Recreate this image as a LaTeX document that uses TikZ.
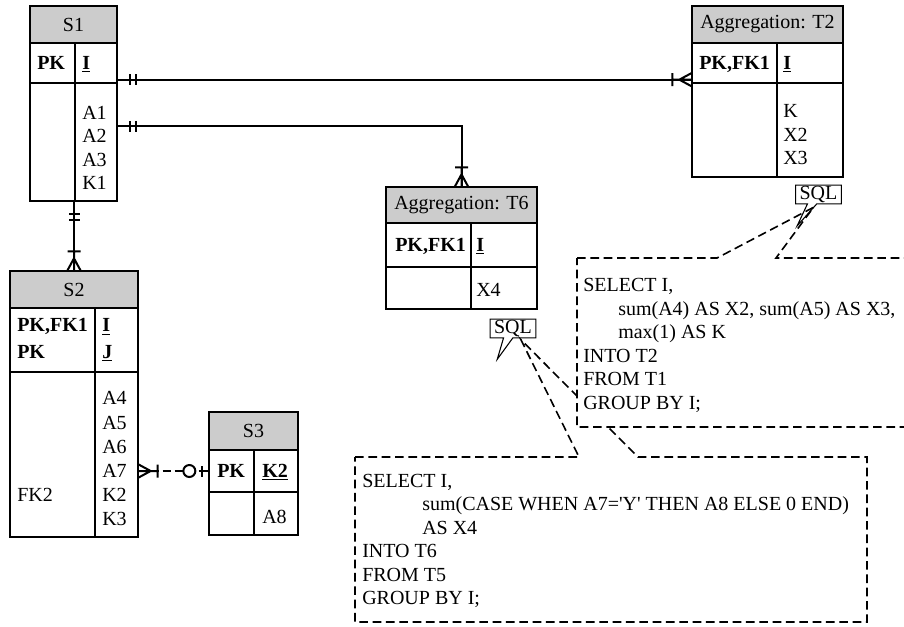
\documentclass[tikz,border=0pt]{standalone}
\usepackage{fontspec}
\setmainfont{Liberation Serif}
\usepackage{tikz}
\usepackage{xcolor}
\usetikzlibrary{calc,positioning,fit,shapes.callouts}
\definecolor{ERGray}{HTML}{CCCCCC}
\definecolor{ERInk}{HTML}{000000}
\tikzset{
  tabCell/.style={draw=ERInk, line width=1pt, inner sep=0pt, fill=white},
  tabHead/.style={tabCell, fill=ERGray},
  headText/.style={inner sep=0pt, font=\fontsize{15pt}{17.6pt}\selectfont},
  attrText/.style={anchor=base west, inner sep=0pt, align=left, font=\fontsize{15pt}{17.6pt}\selectfont},
  keyText/.style={attrText, font=\fontsize{15pt}{17.6pt}\selectfont\bfseries},
  sqlText/.style={attrText},
  sqlTag/.style={rectangle callout, draw=ERInk, line width=0.8pt, fill=white, inner xsep=3pt, inner ysep=0.8pt, callout pointer width=7pt, font=\fontsize{15pt}{17.6pt}\selectfont},
  relLine/.style={draw=ERInk, line width=1.5pt},
  optLine/.style={relLine, dash pattern=on 6pt off 3pt},
  noteBox/.style={draw=ERInk, line width=1.2pt, dash pattern=on 6.5pt off 3.5pt},
  pics/onlyOne/.style={code={\draw[relLine] (0,0) -- (18,0) (12,-5.5) -- (12,5.5) (18,-5.5) -- (18,5.5);}},
  pics/oneMany/.style={code={\draw[relLine] (0,0) -- (19,0) (0,-6.5) -- (12,0) -- (0,6.5) (19,-6.5) -- (19,6.5);}},
  pics/zeroOne/.style={code={\draw[relLine] (0,0) -- (6,0) (6,-5.5) -- (6,5.5); \draw[relLine, fill=white] (19,0) circle[radius=6];}}
}

\begin{document}
\begin{tikzpicture}[x=0.75pt, y=-0.75pt]
  \useasboundingbox (0,0) rectangle (904,626);
  \clip (0,0) rectangle (904,626);

  % S1
  \node[tabHead, fit={(30,6) (117,43)}, label={[headText]center:S1}] (s1) {};
  \node[tabCell, fit={(30,43) (75,83)}] (s1kl) {};
  \node[tabCell, fit={(75,43) (117,83)}] (s1kr) {};
  \node[tabCell, fit={(30,83) (75,201)}] (s1al) {};
  \node[tabCell, fit={(75,83) (117,201)}] (s1ar) {};
  \node[keyText] (s1pk) at (37,69.6) {PK};
  \node[keyText] (s1id) at (82,69.6) {\underline{I}};
  \node[attrText] (s1att) at (82,189.6) {A1\\A2\\A3\\K1};

  % S2
  \node[tabHead, fit={(10,271) (138,308)}, label={[headText]center:S2}] (s2) {};
  \node[tabCell, fit={(10,308) (95,372)}] (s2kl) {};
  \node[tabCell, fit={(95,308) (138,372)}] (s2kr) {};
  \node[tabCell, fit={(10,372) (95,537)}] (s2al) {};
  \node[tabCell, fit={(95,372) (138,537)}] (s2ar) {};
  \node[keyText] (s2pk) at (17,358.6) {PK,FK1\\[2.4pt]PK};
  \node[keyText] (s2id) at (102,358.6) {\underline{I}\\[2.4pt]\underline{J}};
  \node[attrText, font=\fontsize{15pt}{18.1pt}\selectfont] (s2att) at (102,525.6) {A4\\A5\\A6\\A7\\K2\\K3};
  \node[attrText] (s2fk) at (17,501.5) {FK2};

  % S3
  \node[tabHead, fit={(209,412) (298,450)}, label={[headText]center:S3}] (s3) {};
  \node[tabCell, fit={(209,450) (254,492)}] (s3kl) {};
  \node[tabCell, fit={(254,450) (298,492)}] (s3kr) {};
  \node[tabCell, fit={(209,492) (254,535)}] (s3al) {};
  \node[tabCell, fit={(254,492) (298,535)}] (s3ar) {};
  \node[keyText] (s3pk) at (217,477) {PK};
  \node[keyText] (s3id) at (262,477) {\underline{K2}};
  \node[attrText] (s3att) at (262,523.6) {A8};

  % Aggregation T6
  \node[tabHead, fit={(386,187) (537,223)}, label={[headText]center:Aggregation: T6}] (t6) {};
  \node[tabCell, fit={(386,223) (471,267)}] (t6kl) {};
  \node[tabCell, fit={(471,223) (537,267)}] (t6kr) {};
  \node[tabCell, fit={(386,267) (471,309)}] (t6al) {};
  \node[tabCell, fit={(471,267) (537,309)}] (t6ar) {};
  \node[keyText] (t6pk) at (395,251.6) {PK,FK1};
  \node[keyText] (t6id) at (476,251.6) {\underline{I}};
  \node[attrText] (t6att) at (476,296.6) {X4};

  % Aggregation T2
  \node[tabHead, fit={(692,6) (843,43)}, label={[headText]center:Aggregation: T2}] (t2) {};
  \node[tabCell, fit={(692,43) (777,83)}] (t2kl) {};
  \node[tabCell, fit={(777,43) (843,83)}] (t2kr) {};
  \node[tabCell, fit={(692,83) (777,177)}] (t2al) {};
  \node[tabCell, fit={(777,83) (843,177)}] (t2ar) {};
  \node[keyText] (t2pk) at (699,69.6) {PK,FK1};
  \node[keyText] (t2id) at (783,69.6) {\underline{I}};
  \node[attrText] (t2att) at (783,164.6) {K\\X2\\X3};

  % Relationships
  \draw[relLine] ([yshift=3pt]s1kr.south east) -- ([yshift=3pt]t2kl.south west);
  \pic at ([yshift=3pt]s1kr.south east) {onlyOne};
  \pic[rotate=180] at ([yshift=3pt]t2kl.south west) {oneMany};

  \draw[relLine] ([yshift=-33pt]s1ar.north east) -| (t6.north);
  \pic at ([yshift=-33pt]s1ar.north east) {onlyOne};
  \pic[rotate=90] at (t6.north) {oneMany};

  \draw[relLine] (s1al.south -| s2.north) -- (s2.north);
  \pic[rotate=-90] at (s1al.south -| s2.north) {onlyOne};
  \pic[rotate=90] at (s2.north) {oneMany};

  \draw[optLine] (s2ar.east |- s3kl.west) -- (s3kl.west);
  \pic at (s2ar.east |- s3kl.west) {oneMany};
  \pic[rotate=180] at (s3kl.west) {zeroOne};

  % SQL notes
  \node[sqlTag, callout relative pointer={(-11,21.5)}] (t6sql) at (513,328.5) {SQL};
  \node[sqlTag, callout relative pointer={(-15,22)}] (t2sql) at (818.5,194.5) {SQL};
  \coordinate (t6hook) at ($(t6sql.south)+(8,1.5)$);
  \coordinate (t2hook) at ($(t2sql.south)+(-5,3)$);

  \draw[noteBox] (355,457) -- (579,457) -- (t6hook) -- (638,457) -- (867,457) -- (867,622) -- (355,622) -- cycle;
  \node[sqlText] (t6code) at (362,604.6) {SELECT I,\\
    \hspace*{45pt}sum(CASE WHEN A7=\textquotesingle Y\textquotesingle{} THEN A8 ELSE 0 END)\\
    \hspace*{45pt}AS X4\\INTO T6\\FROM T5\\GROUP BY I;};

  \fill[white] (577,258) rectangle (915,427);
  \draw[noteBox] (577,258) -- (717,258) -- (t2hook) -- (776,258) -- (915,258) -- (915,427) -- (577,427) -- cycle;
  \node[sqlText] (t2code) at (583,409) {SELECT I,\\
    \hspace*{26.25pt}sum(A4) AS X2, sum(A5) AS X3,\\
    \hspace*{26.25pt}max(1) AS K\\INTO T2\\FROM T1\\GROUP BY I;};
\end{tikzpicture}
\end{document}
